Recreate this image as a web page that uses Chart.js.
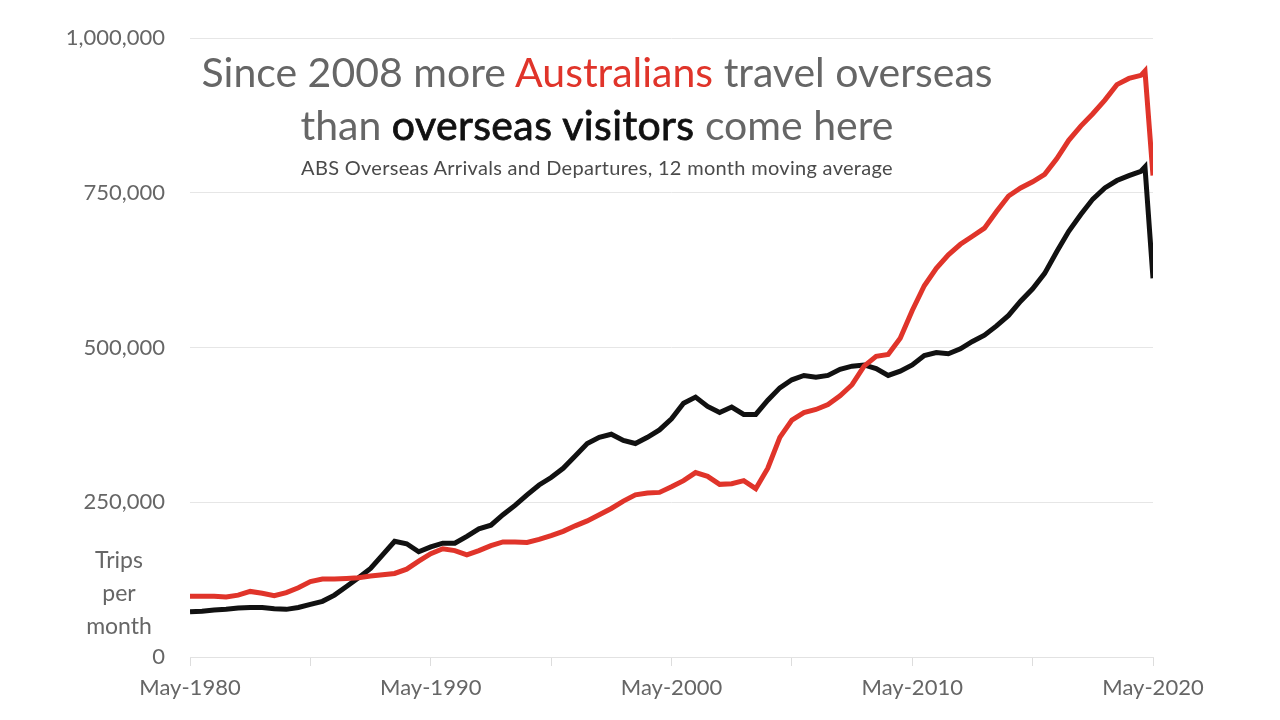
<!DOCTYPE html>
<html lang="en">
<head>
    <meta charset="UTF-8">
    <title>Australians travel overseas vs overseas visitors</title>
    <script src="https://cdn.jsdelivr.net/npm/chart.js"></script>
    <style>
        body {
            margin: 0;
            background: #ffffff;
            font-family: Lato, "Open Sans", sans-serif;
        }
        #wrap {
            position: relative;
            width: 1280px;
            height: 720px;
        }
        .title {
            position: absolute;
            left: 597px;
            transform: translateX(-50%);
            white-space: nowrap;
            color: #666666;
            line-height: 1;
        }
        #line1 { top: 51px; font-size: 41px; }
        #line2 { top: 104px; font-size: 41px; }
        #sub { top: 157px; font-size: 20px; color: #4a4a4a; letter-spacing: 0.3px; }
        .red { color: #e0342a; }
        .dark { color: #111111; -webkit-text-stroke: 0.8px #111111; letter-spacing: 0.4px; }
        #unit {
            position: absolute;
            left: 119px;
            top: 543px;
            transform: translateX(-50%);
            text-align: center;
            font-size: 23px;
            line-height: 33px;
            color: #666666;
        }
    </style>
</head>
<body>
<div id="wrap">
    <canvas id="chart" width="1280" height="720"></canvas>
    <div class="title" id="line1">Since 2008 more <span class="red">Australians</span> travel overseas</div>
    <div class="title" id="line2">than <span class="dark">overseas visitors</span> come here</div>
    <div class="title" id="sub">ABS Overseas Arrivals and Departures, 12 month moving average</div>
    <div id="unit">Trips<br>per<br>month</div>
</div>

<script>
    // months since May-1980
    const months = [
        0, 6, 12, 18, 24, 30, 36, 42, 48, 54,
        60, 66, 72, 78, 84, 90, 96, 102, 108, 114,
        120, 126, 132, 138, 144, 150, 156, 162, 168, 174,
        180, 186, 192, 198, 204, 210, 216, 222, 228, 234,
        240, 246, 252, 258, 264, 270, 276, 282, 288, 294,
        300, 306, 312, 318, 324, 330, 336, 342, 348, 354,
        360, 366, 372, 378, 384, 390, 396, 402, 408, 414,
        420, 426, 432, 438, 444, 450, 456, 462, 468, 474,
        476, 480
    ];

    // Australians travelling overseas (departures), trips per month
    const departures = [
        98000, 98000, 98000, 97000, 100000, 106000, 103000, 99000, 104000, 112000,
        122000, 126000, 126000, 127000, 128000, 131000, 133000, 135000, 142000, 155000,
        167000, 175000, 172000, 165000, 172000, 180000, 186000, 186000, 185000, 190000,
        196000, 203000, 212000, 220000, 230000, 240000, 252000, 262000, 265000, 266000,
        275000, 285000, 298000, 292000, 279000, 280000, 285000, 272000, 305000, 355000,
        383000, 395000, 400000, 408000, 422000, 440000, 470000, 486000, 489000, 515000,
        560000, 600000, 628000, 650000, 667000, 680000, 693000, 720000, 745000, 758000,
        768000, 780000, 805000, 835000, 858000, 878000, 900000, 925000, 935000, 940000,
        947000, 778000
    ];

    // overseas visitors arriving, trips per month
    const arrivals = [
        73000, 74000, 76000, 77000, 79000, 80000, 80000, 78000, 77000, 80000,
        85000, 90000, 100000, 114000, 128000, 143000, 165000, 187000, 183000, 170000,
        178000, 184000, 184000, 195000, 207000, 213000, 230000, 245000, 262000, 278000,
        290000, 305000, 325000, 345000, 355000, 360000, 350000, 345000, 355000, 367000,
        385000, 410000, 420000, 405000, 395000, 404000, 392000, 392000, 415000, 435000,
        448000, 455000, 452000, 455000, 465000, 470000, 472000, 466000, 455000, 462000,
        472000, 487000, 492000, 490000, 498000, 510000, 520000, 535000, 552000, 575000,
        595000, 620000, 655000, 688000, 715000, 740000, 758000, 770000, 778000, 785000,
        792000, 612000
    ];

    const yTicks = [0, 250000, 500000, 750000, 1000000];

    function pts(vals) {
        return months.map((m, i) => ({ x: m, y: vals[i] }));
    }

    const ctx = document.getElementById('chart').getContext('2d');
    const chart = new Chart(ctx, {
        type: 'line',
        data: {
            datasets: [{
                label: 'Australians travel overseas',
                data: pts(departures),
                borderColor: '#e0342a',
                borderWidth: 5,
                pointRadius: 0,
                tension: 0
            }, {
                label: 'Overseas visitors',
                data: pts(arrivals),
                borderColor: '#111111',
                borderWidth: 5,
                pointRadius: 0,
                tension: 0
            }]
        },
        options: {
            responsive: false,
            animation: false,
            layout: {
                padding: { left: 0, right: 127, top: 38, bottom: 0 }
            },
            plugins: {
                legend: { display: false },
                tooltip: { enabled: false }
            },
            scales: {
                x: {
                    type: 'linear',
                    min: 0,
                    max: 480,
                    afterFit: (scale) => { scale.height = 63; },
                    afterBuildTicks: (scale) => {
                        scale.ticks = [0, 60, 120, 180, 240, 300, 360, 420, 480].map(v => ({ value: v }));
                    },
                    grid: {
                        drawOnChartArea: false,
                        drawTicks: true,
                        tickLength: 9,
                        color: '#dddddd'
                    },
                    border: { display: true, color: '#e2e2e2', width: 1 },
                    ticks: {
                        autoSkip: false,
                        maxRotation: 0,
                        padding: 9,
                        color: '#666666',
                        font: { family: 'Lato', size: 22 },
                        callback: (v) => v % 120 === 0 ? 'May-' + (1980 + v / 12) : ''
                    }
                },
                y: {
                    min: 0,
                    max: 1000000,
                    afterFit: (scale) => { scale.width = 190; },
                    afterBuildTicks: (scale) => {
                        scale.ticks = yTicks.map(v => ({ value: v }));
                    },
                    grid: {
                        color: '#e6e6e6',
                        drawTicks: false
                    },
                    border: { display: false },
                    ticks: {
                        padding: 25,
                        color: '#666666',
                        font: { family: 'Lato', size: 22 },
                        callback: (v) => v.toLocaleString('en-US')
                    }
                }
            }
        }
    });
</script>
</body>
</html>
